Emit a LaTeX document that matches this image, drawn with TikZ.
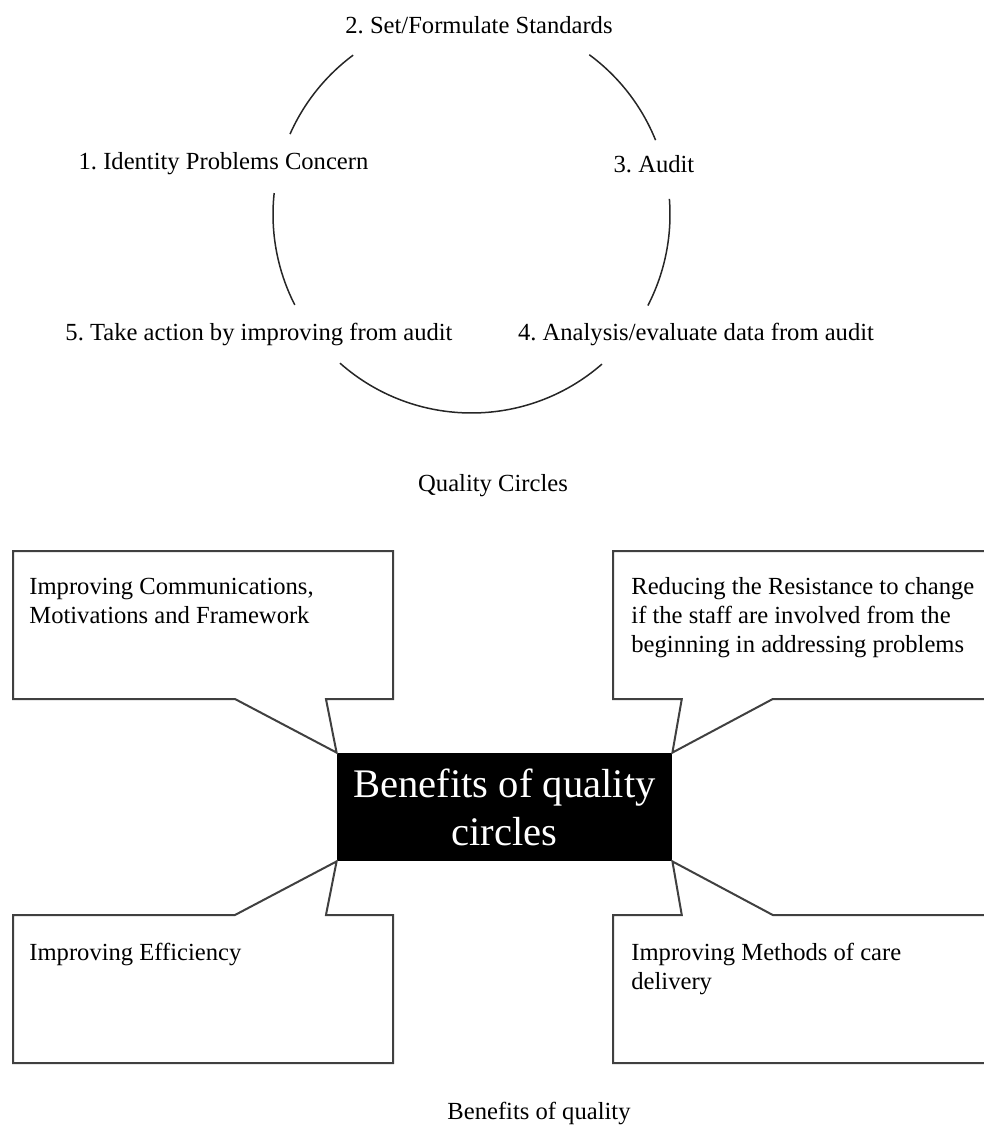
\documentclass[tikz,border=0pt]{standalone}
\usepackage{fontspec}
\setmainfont{Liberation Serif}
\frenchspacing
\usetikzlibrary{positioning, shapes.callouts}

\begin{document}
\begin{tikzpicture}[x=0.5pt, y=-0.5pt,
    lbl/.style={font=\fontsize{12.3}{14.5}\selectfont, inner sep=0pt},
    ring/.style={line width=0.75pt, black!85},
    callbox/.style={draw=black!75, line width=1pt, rectangle callout, minimum width=190pt, minimum height=74pt, callout pointer width=45.5pt, inner sep=0pt},
    calltext/.style={lbl, align=left, anchor=base west}]
        \useasboundingbox (0,0) rectangle (983,1127);

        \coordinate (cyc) at (471.5,214.5);
        \foreach \a/\b in {-156.1/-126.6, -53.6/-22, -4.5/27.3, 48.9/131.5, 152.9/186.2}
            \draw[ring] (cyc) ++(\a:198.5) arc[start angle=\a, end angle=\b, radius=198.5];

        \node[lbl] (s2) at (479,25) {2. Set/Formulate Standards};
        \node[lbl] (s1) at (223.5,164) {1. Identity Problems Concern};
        \node[lbl] (s3) at (654,164) {3. Audit};
        \node[lbl] (s5) at (259,334) {5. Take action by improving from audit};
        \node[lbl] (s4) at (696,334) {4. Analysis/evaluate data from audit};
        \node[lbl] (capA) at (493,486) {Quality Circles};

        \node[fill=black, text=white, minimum width=167.5pt, minimum height=54pt, inner sep=0pt, align=center, font=\fontsize{20.3}{24}\selectfont] (ben) at (504.5,807) {Benefits of quality\\circles};

        \node[callbox, callout absolute pointer={(ben.north west)}] (c1) at (203,625) {};
        \node[callbox, callout absolute pointer={(ben.north east)}] (c2) at (803,625) {};
        \node[callbox, callout absolute pointer={(ben.south west)}] (c3) at (203,989) {};
        \node[callbox, callout absolute pointer={(ben.south east)}] (c4) at (803,989) {};

        \node[calltext] (t1) at (29,623) {Improving Communications,\\Motivations and Framework};
        \node[calltext] (t2) at (631,652) {Reducing the Resistance to change\\if the staff are involved from the\\beginning in addressing problems};
        \node[calltext] (t3) at (29,960) {Improving Efficiency};
        \node[calltext] (t4) at (631,989) {Improving Methods of care\\delivery};

        \node[lbl] (capB) at (539,1113) {Benefits of quality};
      \end{tikzpicture}
\end{document}
